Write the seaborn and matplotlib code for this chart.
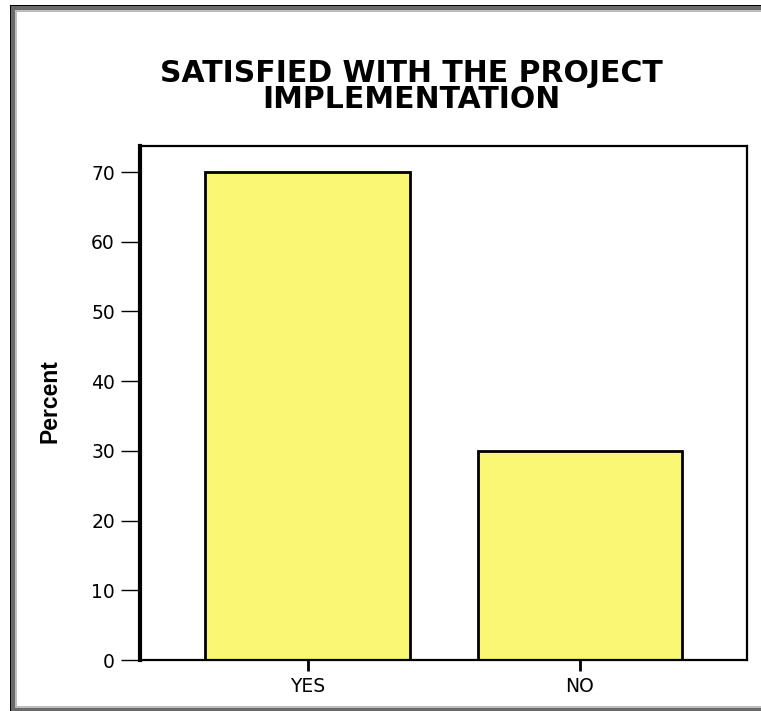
import matplotlib
matplotlib.use("Agg")
import matplotlib.pyplot as plt
from matplotlib.patches import Rectangle
from matplotlib import font_manager
import seaborn as sns
import pandas as pd

# Survey answers and share of respondents (%)
answers = ["YES", "NO"]
percent = [70, 30]
y_ticks = [0, 10, 20, 30, 40, 50, 60, 70]

title_text = "SATISFIED WITH THE PROJECT\nIMPLEMENTATION"
y_label = "Percent"

bar_fill = "#F9F774"

sns.set_style("white")
plt.rcParams["font.family"] = ["DejaVu Sans"]
plt.rcParams["text.color"] = "black"
plt.rcParams["axes.labelcolor"] = "black"

installed = {f.name for f in font_manager.fontManager.ttflist}
narrow = "Liberation Sans Narrow" if "Liberation Sans Narrow" in installed else "Liberation Sans"

W, H = 761, 711
fig = plt.figure(figsize=(W / 100, H / 100), dpi=100)
fig.patch.set_facecolor("white")


def px_rect(x0, y0, x1, y1, color, z):
    """Filled rectangle given in pixel coordinates measured from the top-left."""
    fig.add_artist(Rectangle((x0 / W, 1 - y1 / H), (x1 - x0) / W, (y1 - y0) / H,
                             transform=fig.transFigure, facecolor=color,
                             edgecolor="none", zorder=z))


# Bevelled page frame
px_rect(10, 5, 800, 760, "black", -10)
px_rect(11, 6, 800, 760, "#6a6a6a", -9)
px_rect(15, 10, 800, 708, "#bdbdbd", -8)
px_rect(17, 12, 800, 706, "white", -7)

ax = fig.add_axes([140 / W, 1 - 660 / H, (747 - 140) / W, (660 - 146) / H])
ax.set_facecolor("white")
ax.patch.set_alpha(0)

df = pd.DataFrame({"answer": answers, "percent": percent})
sns.barplot(data=df, x="answer", y="percent", color=bar_fill, saturation=1,
            edgecolor="black", linewidth=2.0, width=0.752, ax=ax)

ax.set_xlim(-0.615, 1.613)
ax.set_ylim(0, 73.73)
ax.set_yticks(y_ticks)
ax.set_yticklabels([str(t) for t in y_ticks])
ax.set_xlabel("")
ax.set_ylabel("")

ax.tick_params(axis="y", direction="out", length=14, width=1.0, pad=4,
               labelsize=13.5, left=True, colors="black")
ax.tick_params(axis="x", direction="out", length=8, width=2.0, pad=4,
               labelsize=13.5, bottom=True, colors="black")

for side, lw in {"left": 3.0, "bottom": 1.6, "top": 1.6, "right": 1.6}.items():
    ax.spines[side].set_visible(True)
    ax.spines[side].set_linewidth(lw)
    ax.spines[side].set_color("black")

fig.text(50 / W, 1 - 401 / H, y_label, rotation=90, ha="center", va="center",
         fontsize=16.5, fontweight="bold", color="black",
         family=[narrow, "DejaVu Sans"])

fig.text(411 / W, 1 - 59 / H, title_text, ha="center", va="top",
         fontsize=21.5, fontweight="bold", linespacing=0.88, color="black",
         family=["DejaVu Sans"])

fig.savefig("out.png", dpi=100, facecolor="white")
